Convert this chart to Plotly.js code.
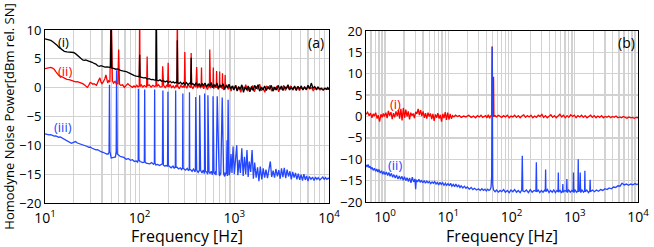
<!DOCTYPE html>
<html>
<head>
<meta charset="utf-8">
<script src="https://cdn.plot.ly/plotly-3.0.1.min.js"></script>
<style>html,body{margin:0;padding:0;background:#fff;}#chart{width:654px;height:247px;}</style>
</head>
<body>
<div id="chart"></div>
<script>
// ---------- Panel (a) ----------
const freqA1 = [10,10.5,11,11.5,12,12.5,13,13.5,14,14.5,15,16,17,18,19,20,21,22,23,24,25,26,27,28,29,30,31.5,33,34.5,36,37.5,39,41,43,45,47,
  49.3,50,50.7,52,54,56,58,60,63,66,69,72,76,80,84,88,92,96,99,100,101,105,110,115,120,126,132,138,144,148.5,150,151.5,157,164,171,178,186,194,202,210,218,226,234,242,247.5,250,252.5,
  260,270,280,290,300,312,324,340,346.5,350,353.5,365,380,395,410,425,440,455,470,490,510,530,550,570,590,610,630,655,680,705,730,760,790,820,850,880,915,950,990,
  1030,1070,1110,1150,1200,1250,1300,1350,1400,1460,1520,1580,1640,1710,1780,1850,1930,2010,2090,2180,2270,2360,2460,2560,2670,2780,2900,3020,3140,3270,3400,3540,3690,3840,
  4000,4170,4340,4520,4700,4900,5100,5300,5520,5750,6000,6250,6500,6780,7060,7350,7650,7970,8300,8650,9000,9400,9700,10000];
const powA1 = [8.45,8.4,8.3,8.2,8.0,7.8,7.6,7.3,7.0,6.8,6.6,6.3,6.2,6.15,6.05,6.1,5.9,5.6,5.4,5.0,4.8,4.75,4.8,4.7,4.65,4.6,4.4,4.2,4.1,3.8,3.7,3.8,3.7,3.55,3.6,3.5,
  3.5,14,3.4,3.4,3.3,3.2,3.25,3.1,3.0,2.9,2.85,2.8,2.6,2.4,2.2,2.1,2.0,1.9,1.9,5.7,1.85,1.8,1.7,1.75,1.5,1.55,1.4,1.45,1.3,1.35,14,1.3,1.2,1.35,1.1,1.2,1.0,1.15,0.9,1.1,0.85,1.0,0.8,0.95,0.8,8.2,0.9,
  0.7,0.95,0.6,0.85,0.55,0.9,0.5,0.8,0.6,5.2,0.5,0.7,0.4,0.85,0.3,0.7,0.2,0.75,0.35,0.8,0.1,0.6,0.3,0.9,0.0,0.5,0.2,0.8,-0.1,0.5,0.1,0.7,-0.3,0.4,0.0,0.6,-0.2,0.3,-0.4,
  0.4,-0.6,0.2,-0.3,0.5,-0.8,0.1,-0.4,0.3,-0.7,0.2,-0.5,0.4,-0.2,0.5,-0.6,0.1,-0.4,0.3,-0.5,0.2,-0.3,0.4,-0.6,0.1,-0.4,0.4,-0.3,0.3,-0.5,0.2,-0.2,0.5,-0.4,
  0.1,-0.3,0.3,-0.5,0.2,-0.2,0.3,-0.4,0.1,-0.3,0.4,-0.2,0.8,-0.1,0.2,-0.3,0.1,-0.2,-0.1,-0.4,-0.1,-0.3,0.0,-0.3];

const freqA2 = [10,10.5,11,11.5,12,12.5,13,13.5,14,15,16,17,18,19,20,21,22,23,24,25,26,27,28,29,30,31,32,33,34,35,36,37,38,39,40,41,42,43,44,45,46,47,48.5,50,51.5,53,55,57,58.8,60,61.2,63,66,69,72,75,78,81,84,87,90,93,96,99,100,101,104,108,112,116,118.5,120,121.5,126,132,138,144,148.5,150,151.5,158,165,171,173,175,179,186,193,197.5,200,202.5,210,218,226,234,242,247.5,250,252.5,
  262,272,282,292,296.5,300,303.5,315,325,337,346.5,350,353.5,365,380,393,400,407,420,430,440,446,450,454,460,475,490,505,520,540,546,550,554,560,580,595,600,605,625,645,650,655,675,695,700,705,725,745,750,755,775,795,800,805,830,860,890,925,960,1000,
  1040,1080,1120,1170,1220,1270,1320,1380,1440,1500,1560,1630,1700,1770,1850,1930,2010,2100,2190,2280,2380,2480,2590,2700,2820,2940,3060,3190,3330,3470,3620,3780,3940,4110,4290,4470,4660,4860,5070,5290,5520,5760,6000,6260,6530,6810,7100,7400,7720,8050,8400,8760,9130,9520,10000];
const powA2 = [3.3,3.4,3.5,3.5,3.4,3.2,2.8,2.4,2.1,1.9,1.6,1.45,1.4,1.3,1.2,1.0,1.05,0.95,0.8,0.7,0.5,0.3,0.05,0.4,0.9,0.8,0.6,0.7,0.5,0.4,0.9,1.5,1.7,1.0,0.7,0.9,1.2,1.6,2.2,1.5,0.8,1.2,1.0,14,1.2,0.8,1.1,0.6,0.7,6.6,0.6,0.4,0.5,0.05,0.3,0.7,0.4,0.2,0.05,0.3,0.1,0.4,0.15,0.3,14,0.2,0.5,0.1,0.35,0.2,0.1,5.4,0.3,0.5,0.1,0.4,0.2,0.3,14,0.2,0.5,0.1,0.3,0.2,3.7,0.4,0.0,0.4,0.2,4.3,0.1,0.5,0.0,0.3,-0.1,0.4,0.1,14,0.3,
  -0.2,0.4,0.1,0.3,0.0,6.2,0.4,-0.1,0.5,0.2,0.0,6.0,0.3,-0.2,0.5,0.1,3.6,-0.1,0.4,0.2,0.0,0.1,3.5,0.2,0.3,-0.2,0.5,0.1,-0.3,0.4,0.1,6.6,0.0,-0.1,0.3,0.1,3.5,-0.2,0.4,0.0,2.9,0.3,-0.3,0.2,2.8,0.0,0.4,-0.2,2.5,0.1,-0.4,0.3,2.2,0.0,0.5,-0.3,0.2,-0.6,0.3,-0.2,
  0.4,-0.5,0.1,-0.8,0.3,-0.3,0.5,-0.6,0.0,-0.4,0.4,-0.7,0.2,-0.3,0.6,-0.5,0.0,-0.8,0.3,-0.2,0.4,-0.6,0.1,-0.4,0.3,-0.7,0.0,-0.3,0.4,-0.5,0.2,-0.2,0.3,-0.4,0.1,-0.3,0.2,-0.5,0.0,-0.3,0.2,-0.4,0.1,-0.2,0.0,-0.5,-0.1,-0.3,-0.1,-0.4,-0.2,-0.4,-0.1,-0.3,-0.3];

const freqA3 = [10,10.5,11,11.5,12,12.5,13,13.5,14,14.5,15,16,17,18,19,20,21,22,23,24,25,26,27,28,29,30,31.5,33,34.5,36,37.5,39,41,43,45,46.5,47.5,48,48.5,50,55.5,56.5,57,58,60,62,65,68,72,76,80,84,88,92,95,96.5,97,98,101,104,108,112,113,114,117,122,128,134,140,143,144,145,148,155,162,174,176,178,183,190,197,199,201,206,215,225,232,238,240,242,248,258,268,278,284,286,288,295,305,318,328,334,336,338,345,358,370,385,388,391,400,415,426,428,430,440,455,470,482,484,486,495,510,522,524,526,540,555,570,588,592,596,610,625,638,641,644,660,680,692,695,698,720,745,770,790,800,803,806,825,838,843,848,
  860,880,900,922,945,970,1000,1030,1060,1090,1125,1160,1200,1240,1280,1320,1360,1400,1440,1490,1540,1590,1640,1700,1760,1820,1880,1950,2020,2090,2160,2240,2320,2400,2480,2570,2660,2750,2850,2950,3050,3150,3260,3370,3490,3610,3740,3870,4000,4140,4280,4430,4580,4740,4900,5070,5250,5430,5620,5800,6000,6200,6450,6700,6950,7200,7450,7700,8000,8300,8600,8900,9200,9500,9800,10000];
const powA3 = [-8.0,-8.1,-8.2,-8.15,-8.3,-8.4,-8.35,-8.5,-8.6,-8.55,-8.7,-8.9,-9.2,-9.5,-9.65,-9.5,-9.35,-9.6,-9.7,-9.9,-10.0,-10.1,-10.05,-10.2,-10.35,-10.3,-10.5,-10.6,-10.8,-10.75,-10.95,-11.1,-11.2,-11.4,-11.5,-11.5,-11.2,0.5,-11.0,-12.2,-12.0,-11.0,3.0,-11.5,-11.8,-11.9,-12.0,-12.1,-12.4,-12.3,-12.6,-12.5,-12.8,-12.7,-12.9,-12.6,-0.2,-12.5,-12.8,-12.9,-13.0,-12.9,-0.3,-12.8,-13.1,-13.1,-13.2,-13.0,-13.3,-13.1,-0.3,-13.0,-13.4,-13.3,-13.5,-13.2,-0.5,-13.4,-13.6,-13.5,-13.6,-0.7,-13.5,-13.7,-13.9,-13.6,-14.0,-13.7,-0.5,-13.8,-13.8,-14.1,-13.9,-14.2,-13.9,-1.0,-14.0,-14.1,-14.3,-14.0,-14.4,-14.1,-0.8,-14.2,-14.2,-14.5,-14.1,-14.6,-14.2,-1.6,-14.3,-14.7,-14.4,-14.5,-1.3,-14.3,-14.8,-14.3,-14.9,-14.4,-1.0,-14.5,-14.6,-15.0,-14.4,-1.3,-14.6,-14.9,-14.5,-15.1,-14.6,-1.5,-14.7,-15.0,-14.5,-15.2,-14.7,-1.5,-14.9,-15.1,-14.6,-15.3,-14.8,-1.7,-14.9,-15.4,-14.7,-15.2,-15.0,-14.8,-9.1,-15.3,-14.9,-2.1,-15.2,
  -14.5,-11.5,-14.8,-10.2,-15.0,-13.0,-10.0,-15.2,-12.5,-14.8,-10.5,-15.3,-12.0,-15.0,-10.8,-15.5,-12.8,-14.6,-10.8,-15.8,-13.0,-15.6,-13.8,-16.2,-13.7,-15.9,-14.0,-15.6,-14.2,-15.7,-14.3,-12.8,-15.5,-14.4,-15.6,-14.1,-15.4,-14.3,-15.8,-14.0,-15.5,-13.9,-15.7,-14.2,-15.4,-14.5,-15.9,-14.6,-15.6,-14.8,-15.9,-14.9,-16.0,-15.1,-16.1,-15.0,-16.0,-15.3,-16.2,-15.4,-15.9,-15.5,-16.1,-15.5,-15.9,-15.6,-16.0,-15.7,-15.5,-15.9,-15.6,-15.9,-15.7,-15.8,-15.6,-15.8];

// ---------- Panel (b) ----------
const freqB1 = [0.5,0.53,0.56,0.59,0.62,0.65,0.68,0.71,0.75,0.78,0.82,0.86,0.9,0.94,0.98,1.03,1.08,1.13,1.18,1.24,1.3,1.36,1.42,1.49,1.56,1.63,1.7,1.78,1.86,1.95,2.04,2.13,2.23,2.33,2.44,2.55,2.67,2.79,2.92,3.05,3.19,3.34,3.49,3.65,3.82,4.0,4.18,4.37,4.57,4.78,5.0,5.23,5.47,5.72,5.98,6.26,6.55,6.85,7.16,7.49,7.83,8.19,8.57,8.96,9.37,9.8,10.25,10.72,11.2,11.7,12.3,13,14,15,16,17.5,19,21,23,25,27,29,31,33,35,37,39,41,43,45,46.5,48.5,49.5,50.5,51.3,52,52.7,55,58,62,66,70,75,80,86,92,98,105,112,120,128,137,146,156,167,178,190,203,217,232,248,265,283,302,322,344,367,392,419,447,477,510,545,582,621,663,708,756,808,862,921,983,1050,1120,1200,1280,1370,1460,1560,1670,1780,1900,2030,2170,2320,2480,2650,2830,3020,3230,3450,3690,3940,4210,4500,4810,5140,5490,5870,6270,6700,7160,7650,8170,8730,9330,9700,10000];
const powB1 = [0.5,1.0,0.2,0.8,-0.3,0.6,0.1,0.9,-0.5,0.3,-1.2,0.5,-0.2,0.7,0.0,0.9,-0.4,1.3,0.2,1.0,-0.6,0.8,-0.2,1.2,0.1,1.5,-0.5,1.8,-0.9,2.0,-0.3,1.6,0.0,1.2,-0.7,0.9,0.2,0.7,-0.4,1.1,0.6,1.8,0.3,1.5,0.1,1.2,-0.3,0.8,-0.5,0.9,0.0,0.7,-0.6,0.6,-1.0,0.5,-0.3,0.8,-0.5,0.4,-1.2,0.6,-0.4,1.0,-0.8,0.9,-0.7,0.6,-0.5,0.2,-0.1,0.3,0.0,0.2,-0.2,0.1,-0.1,0.3,-0.2,0.1,-0.3,0.2,-0.1,0.3,-0.2,0.1,0.2,-0.3,0.4,-0.4,0.1,0.2,16.4,0.2,-0.1,9.3,0.0,0.2,-0.1,0.3,0.0,-0.2,0.2,-0.1,0.3,-0.3,0.1,-0.1,0.3,-0.2,0.2,-0.3,0.1,0.4,-0.2,0.2,-0.1,0.3,-0.3,0.1,-0.2,0.3,0.0,0.5,-0.2,0.2,-0.3,0.1,0.4,-0.2,0.2,-0.3,0.1,0.5,-0.1,0.3,-0.3,0.2,-0.2,0.4,0.0,0.3,-0.3,0.2,-0.1,0.3,-0.2,0.2,-0.3,0.1,0.3,-0.2,0.2,-0.3,0.1,-0.2,0.2,-0.3,0.0,-0.2,0.1,-0.3,0.0,-0.2,0.1,-0.3,-0.1,-0.3,0.0,-0.2,-0.4,-0.1,-0.3,-0.2,-0.4,-0.2,-0.3,-0.3];

const freqB2 = [0.5,0.52,0.54,0.56,0.58,0.6,0.62,0.65,0.68,0.71,0.74,0.77,0.8,0.84,0.88,0.92,0.96,1.0,1.05,1.1,1.15,1.2,1.26,1.32,1.38,1.45,1.52,1.6,1.68,1.76,1.85,1.94,2.03,2.13,2.23,2.34,2.45,2.57,2.7,2.83,2.97,3.05,3.12,3.27,3.43,3.6,3.78,3.96,4.16,4.36,4.58,4.8,5.04,5.29,5.55,5.83,6.1,6.4,6.7,7.05,7.4,7.75,8.15,8.55,9.0,9.4,9.9,10.4,10.9,11.4,12,12.6,13.2,13.9,14.6,15.3,16,17,18,19,20,21.5,23,24.5,26,28,30,32,34,36,38,40,42,44,46,47.5,48.5,49.5,50.5,52,55,58,62,66,70,75,80,86,92,98,105,112,120,128,137,145,148,151,160,172,185,198,212,227,243,247,251,265,280,297,315,335,342,346,350,370,392,415,440,466,494,523,543,550,557,585,615,640,648,656,700,742,750,758,800,850,900,945,955,965,1010,1070,1122,1135,1148,1200,1220,1240,1300,1380,1430,1445,1460,1550,1650,1730,1750,1770,1900,2050,2200,2380,2570,2780,3000,3250,3500,3800,4100,4450,4800,5200,5600,6050,6550,7100,7700,8300,9000,9500,10000];
const powB2 = [-11.3,-11.8,-11.2,-12.0,-11.6,-12.3,-11.9,-12.6,-12.1,-12.8,-12.3,-13.0,-12.4,-13.2,-12.7,-13.5,-12.9,-13.6,-13.0,-13.8,-13.1,-14.0,-13.3,-14.2,-13.6,-14.4,-13.7,-14.6,-13.9,-14.7,-14.0,-14.9,-14.1,-15.0,-14.3,-15.2,-14.4,-15.5,-14.2,-15.3,-14.6,-17.0,-14.8,-15.3,-14.7,-15.4,-14.9,-15.5,-15.0,-15.6,-15.1,-15.5,-15.2,-15.7,-15.3,-15.6,-15.2,-15.8,-15.4,-16.0,-15.4,-15.9,-15.5,-16.1,-15.6,-16.1,-15.7,-16.2,-15.6,-16.3,-15.9,-16.4,-15.8,-16.5,-16.0,-16.6,-16.2,-16.7,-16.3,-16.8,-16.5,-17.0,-16.6,-17.1,-16.8,-17.2,-16.9,-17.3,-16.9,-17.3,-17.0,-17.4,-17.0,-17.3,-17.1,-16.5,-14.0,16.3,-16.0,-17.2,-17.6,-17.2,-17.7,-17.3,-17.6,-17.1,-17.7,-17.3,-17.8,-17.2,-17.6,-17.1,-17.7,-17.3,-17.8,-17.2,-9.2,-17.4,-17.6,-17.2,-17.8,-17.1,-17.7,-17.3,-17.5,-10.7,-17.6,-17.2,-17.8,-17.3,-17.7,-17.2,-17.5,-12.4,-17.6,-17.1,-17.8,-17.3,-17.7,-17.2,-17.8,-17.3,-17.6,-13.1,-17.7,-17.2,-17.9,-17.4,-15.8,-17.7,-17.3,-17.5,-14.6,-17.8,-17.2,-17.7,-17.3,-17.6,-13.1,-17.8,-17.2,-17.7,-17.4,-10.0,-17.6,-17.3,-13.1,-17.8,-17.2,-17.7,-17.4,-12.7,-17.6,-17.2,-17.8,-17.4,-14.8,-17.6,-17.2,-17.6,-17.2,-17.5,-17.1,-17.3,-16.9,-17.1,-16.7,-16.9,-16.5,-16.6,-16.2,-16.3,-15.6,-16.0,-15.8,-16.1,-15.8,-16.0,-15.7,-15.9,-15.8];

const xTickValsA = [10,100,1000,10000];
const xTickTextA = ['10<sup>1</sup>','10<sup>2</sup>','10<sup>3</sup>','10<sup>4</sup>'];
const xTickValsB = [1,10,100,1000,10000];
const xTickTextB = ['10<sup>0</sup>','10<sup>1</sup>','10<sup>2</sup>','10<sup>3</sup>','10<sup>4</sup>'];
const yTickValsA = [-20,-15,-10,-5,0,5,10];
const yTickValsB = [-20,-15,-10,-5,0,5,10,15,20];

const RED = '#ff0000', BLUE = '#2346ff', BLACK = '#000000';
const GRID = '#d2d2d2';
const FONT = 'Open Sans, Liberation Sans, sans-serif';
const LW = 1.3;

function minorVals(lo, hi) {
  const v = [];
  for (let e = lo; e < hi; e++) for (let m = 2; m <= 9; m++) v.push(m * Math.pow(10, e));
  return v;
}

const traces = [
  {x: freqA3, y: powA3, xaxis: 'x', yaxis: 'y', mode: 'lines', line: {color: BLUE, width: LW}, name: '(iii)'},
  {x: freqA2, y: powA2, xaxis: 'x', yaxis: 'y', mode: 'lines', line: {color: RED, width: LW}, name: '(ii)'},
  {x: freqA1, y: powA1, xaxis: 'x', yaxis: 'y', mode: 'lines', line: {color: BLACK, width: LW}, name: '(i)'},
  {x: freqB1, y: powB1, xaxis: 'x2', yaxis: 'y2', mode: 'lines', line: {color: RED, width: LW}, name: '(i)'},
  {x: freqB2, y: powB2, xaxis: 'x2', yaxis: 'y2', mode: 'lines', line: {color: BLUE, width: LW}, name: '(ii)'}
];

const axCommon = {
  showline: true, linecolor: '#000', linewidth: 1, mirror: true,
  showgrid: true, gridcolor: GRID, gridwidth: 1.3, zeroline: false,
  ticks: '', tickfont: {family: FONT, size: 13, color: '#000'}
};

const layout = {
  width: 654, height: 247,
  margin: {l: 45, r: 16, t: 30, b: 44},
  paper_bgcolor: '#fff', plot_bgcolor: '#fff',
  showlegend: false,
  font: {family: FONT, color: '#000'},
  xaxis: Object.assign({}, axCommon, {
    type: 'log', domain: [0, 0.4789], range: [1, 4],
    tickmode: 'array', tickvals: xTickValsA, ticktext: xTickTextA,
    tickfont: {family: FONT, size: 14, color: '#000'}, ticklabelstandoff: 2,
    minor: {tickvals: minorVals(1, 4), showgrid: true, gridcolor: GRID, gridwidth: 1.3, ticks: ''},
    title: {text: 'Frequency [Hz]', font: {family: FONT, size: 16, color: '#000'}, standoff: 1},
    anchor: 'y'
  }),
  yaxis: Object.assign({}, axCommon, {
    domain: [0, 1], range: [-20, 10],
    tickmode: 'array', tickvals: yTickValsA,
    title: {text: 'Homodyne Noise Power[dBm rel. SN]', font: {family: FONT, size: 13, color: '#000'}, standoff: 2},
    anchor: 'x'
  }),
  xaxis2: Object.assign({}, axCommon, {
    type: 'log', domain: [0.5413, 1], range: [Math.log10(0.5), 4],
    tickmode: 'array', tickvals: xTickValsB, ticktext: xTickTextB,
    tickfont: {family: FONT, size: 14, color: '#000'}, ticklabelstandoff: 2,
    minor: {tickvals: minorVals(-1, 4).filter(v => v >= 0.5), showgrid: true, gridcolor: GRID, gridwidth: 1.3, ticks: ''},
    title: {text: 'Frequency [Hz]', font: {family: FONT, size: 16, color: '#000'}, standoff: 1},
    anchor: 'y2'
  }),
  yaxis2: Object.assign({}, axCommon, {
    domain: [0.0058, 0.9942], range: [-20, 20],
    tickmode: 'array', tickvals: yTickValsB,
    anchor: 'x2'
  }),
  annotations: [
    {xref: 'x', yref: 'y', x: 1.2, y: 7.9, text: '(i)', showarrow: false, font: {family: FONT, size: 13, color: BLACK}},
    {xref: 'x', yref: 'y', x: 1.21, y: 2.9, text: '(ii)', showarrow: false, font: {family: FONT, size: 13, color: RED}},
    {xref: 'x', yref: 'y', x: 1.19, y: -6.8, text: '(iii)', showarrow: false, font: {family: FONT, size: 13, color: BLUE}},
    {xref: 'x', yref: 'y', x: 3.863, y: 7.9, text: '(a)', showarrow: false, font: {family: FONT, size: 14, color: BLACK}},
    {xref: 'x2', yref: 'y2', x: 0.158, y: 2.9, text: '(i)', showarrow: false, font: {family: FONT, size: 13, color: RED}},
    {xref: 'x2', yref: 'y2', x: 0.158, y: -11.35, text: '(ii)', showarrow: false, font: {family: FONT, size: 13, color: BLUE}},
    {xref: 'x2', yref: 'y2', x: 3.817, y: 17.4, text: '(b)', showarrow: false, font: {family: FONT, size: 14, color: BLACK}}
  ]
};

Plotly.newPlot('chart', traces, layout, {displayModeBar: false, staticPlot: true});
</script>
</body>
</html>
